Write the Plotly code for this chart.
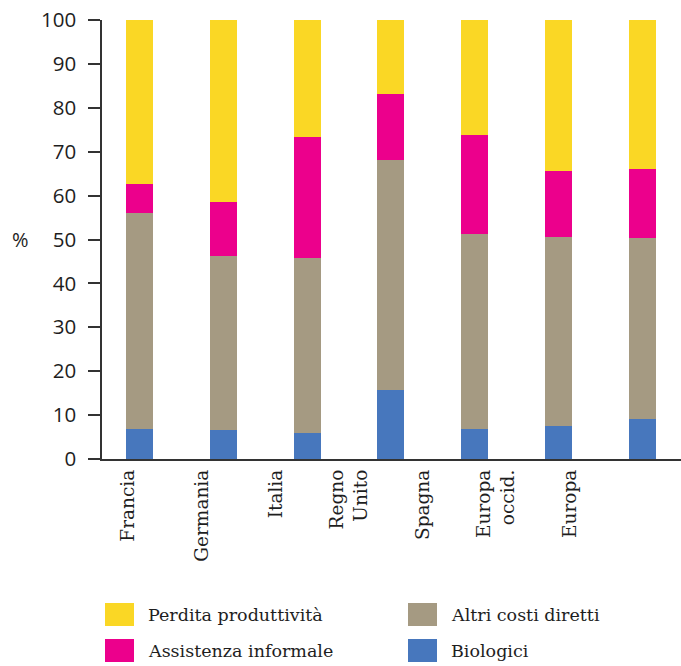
import plotly.graph_objects as go

# ---------------- data ----------------
categories = ["Francia", "Germania", "Italia", "Regno<br>Unito", "Spagna", "Europa<br>occid.", "Europa"]
biologici = [6.8, 6.6, 5.9, 15.7, 6.8, 7.5, 9.1]
altri_costi = [49.3, 39.6, 39.9, 52.4, 44.5, 43.1, 41.2]
assistenza = [6.6, 12.4, 27.5, 15.0, 22.5, 15.0, 15.8]
perdita = [37.3, 41.4, 26.7, 16.9, 26.2, 34.4, 33.9]

series_names = ["Biologici", "Altri costi diretti", "Assistenza informale", "Perdita produttività"]
series_values = [biologici, altri_costi, assistenza, perdita]
series_colors = ["#4777BD", "#A59A82", "#EC008C", "#FAD725"]

y_ticks = [0, 10, 20, 30, 40, 50, 60, 70, 80, 90, 100]
y_label = "%"

# legend layout (column, row) for each series
legend_grid = {"Perdita produttività": (0, 0), "Assistenza informale": (0, 1),
               "Altri costi diretti": (1, 0), "Biologici": (1, 1)}

# ---------------- figure ----------------
W, H = 681, 666
ML, MR, MT, MB = 102, 0, 20, 207
PW, PH = W - ML - MR, H - MT - MB

xs = list(range(len(categories)))
fig = go.Figure()
for name, vals, col in zip(series_names, series_values, series_colors):
    fig.add_trace(go.Bar(x=xs, y=vals, name=name, width=0.322,
                         marker=dict(color=col, line=dict(width=0)),
                         showlegend=False))
# invisible trace carrying the category labels axis
fig.add_trace(go.Scatter(x=xs, y=[None] * len(xs), xaxis="x2", showlegend=False,
                         hoverinfo="skip", mode="markers"))

axis_col = "#333333"
text_col = "#1e1e1e"
fig.update_layout(
    width=W, height=H,
    margin=dict(l=ML, r=MR, t=MT, b=MB, pad=0),
    paper_bgcolor="white", plot_bgcolor="white",
    barmode="stack", bargap=0,
    xaxis=dict(range=[-0.447, 6.46], showticklabels=False, ticks="",
               showline=True, linecolor=axis_col, linewidth=1.5,
               showgrid=False, zeroline=False, fixedrange=True),
    xaxis2=dict(overlaying="x", anchor="y", side="bottom", range=[-0.36, 7.51],
                tickmode="array", tickvals=xs, ticktext=categories, tickangle=-90,
                tickfont=dict(family="DejaVu Serif", size=18.5, color=text_col),
                ticks="", showline=False, showgrid=False, zeroline=False,
                ticklabelstandoff=6),
    yaxis=dict(range=[0, 100], tickmode="array", tickvals=y_ticks,
               ticks="outside", ticklen=12, tickwidth=1.5, tickcolor=axis_col,
               showline=True, linecolor=axis_col, linewidth=1.5,
               showgrid=False, zeroline=False,
               tickfont=dict(family="Open Sans", size=20.5, color=text_col),
               ticklabelstandoff=8),
    showlegend=False,
)

fig.add_annotation(text=y_label, xref="paper", yref="y", x=(20 - ML) / PW, y=50,
                   xanchor="center", yanchor="middle", showarrow=False,
                   font=dict(family="Open Sans", size=20, color=text_col))

# manual legend
col_x = [105, 408]
row_y = [603, 639]
sw_w, sw_h = 29, 23
for name, col in zip(series_names, series_colors):
    c, r = legend_grid[name]
    x0 = col_x[c]
    y0 = row_y[r]
    fig.add_shape(type="rect", xref="paper", yref="paper",
                  x0=(x0 - ML) / PW, x1=(x0 + sw_w - ML) / PW,
                  y0=(MT + PH - y0) / PH, y1=(MT + PH - y0 - sw_h) / PH,
                  fillcolor=col, line=dict(width=0))
    fig.add_annotation(text=name, xref="paper", yref="paper",
                       x=(x0 + sw_w + 12 - ML) / PW, y=(MT + PH - y0 - sw_h / 2) / PH,
                       xanchor="left", yanchor="middle", showarrow=False,
                       font=dict(family="DejaVu Serif", size=17.5, color=text_col))

fig.write_html("out.html")
